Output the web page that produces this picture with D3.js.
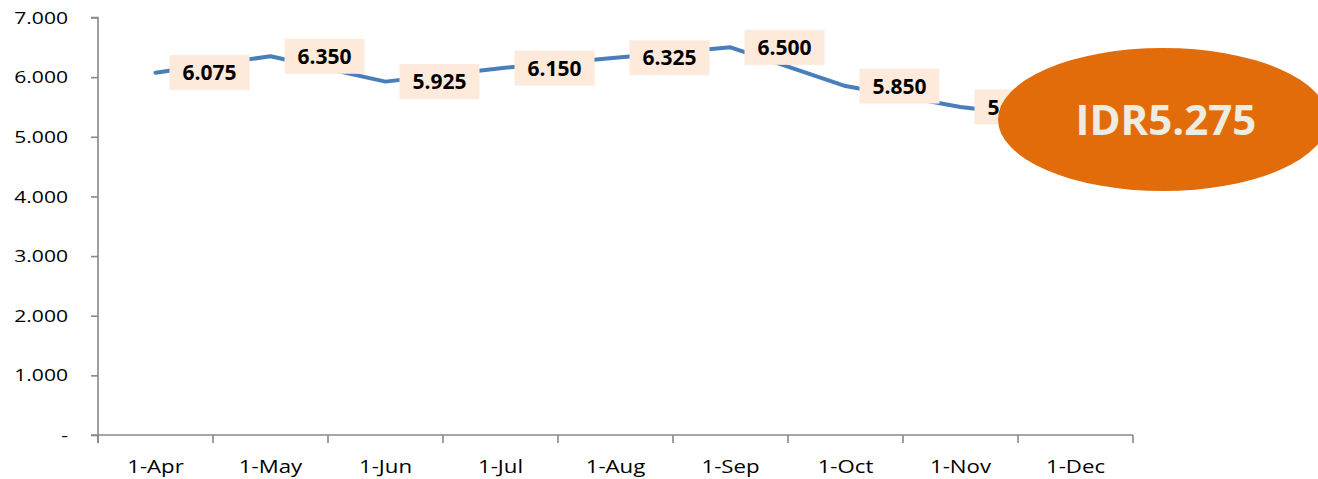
<!DOCTYPE html>
<html>
<head>
<meta charset="utf-8">
<script src="https://cdn.jsdelivr.net/npm/d3@7/dist/d3.min.js"></script>
<style>
  html, body { margin: 0; padding: 0; background: #ffffff; }
  svg { display: block; }
</style>
</head>
<body>
<svg id="chart" width="1318" height="479"></svg>
<script>
const categories = ["1-Apr", "1-May", "1-Jun", "1-Jul", "1-Aug", "1-Sep", "1-Oct", "1-Nov", "1-Dec"];
const values = [6075, 6350, 5925, 6150, 6325, 6500, 5850, 5500, 5275];
const yTicks = [0, 1000, 2000, 3000, 4000, 5000, 6000, 7000];
const yTickLabels = ["-", "1.000", "2.000", "3.000", "4.000", "5.000", "6.000", "7.000"];
const calloutText = "IDR5.275";

const svg = d3.select("#chart");
const plotLeft = 98, plotRight = 1133, plotTop = 17.5, plotBottom = 435;
const axisColor = "#888888";

const x = d3.scaleBand().domain(categories).range([plotLeft, plotRight]).padding(0);
const y = d3.scaleLinear().domain([0, 7000]).range([plotBottom, plotTop]);
const fmt = v => d3.format(",")(v).replace(/,/g, ".");

// Y axis
const yAxis = svg.append("g")
  .attr("transform", `translate(${plotLeft},0)`)
  .call(d3.axisLeft(y).tickValues(yTicks).tickSize(7).tickPadding(0)
    .tickFormat(d => yTickLabels[yTicks.indexOf(d)]));
yAxis.select(".domain").attr("stroke", axisColor).attr("stroke-width", 1.6)
  .attr("d", `M-7,${plotTop}H0V${plotBottom + 8}`);
yAxis.selectAll(".tick line").attr("stroke", axisColor).attr("stroke-width", 1.6);
yAxis.selectAll(".tick text")
  .attr("font-family", "'Open Sans', sans-serif")
  .attr("font-size", 15.5)
  .attr("fill", "#000")
  .attr("x", -30 / 1.36)
  .attr("dy", "0.36em")
  .attr("transform", "scale(1.36,1)");

// X axis (ticks at category boundaries)
const xAxisG = svg.append("g").attr("transform", `translate(0,${plotBottom})`);
xAxisG.append("line").attr("x1", plotLeft - 7).attr("x2", plotRight).attr("y1", 0).attr("y2", 0)
  .attr("stroke", axisColor).attr("stroke-width", 1.6);
const boundaries = categories.map(c => x(c)).concat([plotRight]);
xAxisG.selectAll("line.bt").data(boundaries).enter().append("line")
  .attr("class", "bt")
  .attr("x1", d => d).attr("x2", d => d).attr("y1", 0).attr("y2", 8)
  .attr("stroke", axisColor).attr("stroke-width", 1.6);
xAxisG.selectAll("g.lbl").data(categories).enter().append("g")
  .attr("class", "lbl")
  .attr("transform", d => `translate(${x(d) + x.bandwidth() / 2},38)`)
  .append("text")
  .attr("text-anchor", "middle")
  .attr("font-family", "'Open Sans', sans-serif")
  .attr("font-size", 19)
  .attr("fill", "#000")
  .attr("transform", "scale(1.17,1)")
  .text(d => d);

// Line
const line = d3.line()
  .x((d, i) => x(categories[i]) + x.bandwidth() / 2)
  .y(d => y(d));
svg.append("path")
  .datum(values)
  .attr("d", line)
  .attr("fill", "none")
  .attr("stroke", "#4A7EBB")
  .attr("stroke-width", 4)
  .attr("stroke-linejoin", "round")
  .attr("stroke-linecap", "round");

// Data labels (the last one is hidden under the callout in the reference)
const labelled = values.map((v, i) => ({ v, i })).slice(0, values.length - 1);
const lbl = svg.selectAll("g.dl").data(labelled).enter().append("g")
  .attr("class", "dl")
  .attr("transform", d => `translate(${x(categories[d.i]) + x.bandwidth() / 2 + 14},${y(d.v)})`);
lbl.append("rect")
  .attr("x", 0).attr("y", -17.5).attr("width", 80).attr("height", 35)
  .attr("fill", "#FDEADA");
lbl.append("text")
  .attr("x", 40).attr("y", 0).attr("dy", "0.36em")
  .attr("text-anchor", "middle")
  .attr("font-family", "'Open Sans', sans-serif")
  .attr("font-weight", "bold")
  .attr("font-size", 21)
  .attr("fill", "#000")
  .text(d => fmt(d.v));

// Callout ellipse
svg.append("ellipse")
  .attr("cx", 1163).attr("cy", 119.5).attr("rx", 165).attr("ry", 71.5)
  .attr("fill", "#E36C0A");
svg.append("text")
  .attr("x", 1166).attr("y", 120).attr("dy", "0.36em")
  .attr("text-anchor", "middle")
  .attr("font-family", "'Open Sans', sans-serif")
  .attr("font-weight", "bold")
  .attr("font-size", 42)
  .attr("fill", "#EEECE1")
  .text(calloutText);
</script>
</body>
</html>
